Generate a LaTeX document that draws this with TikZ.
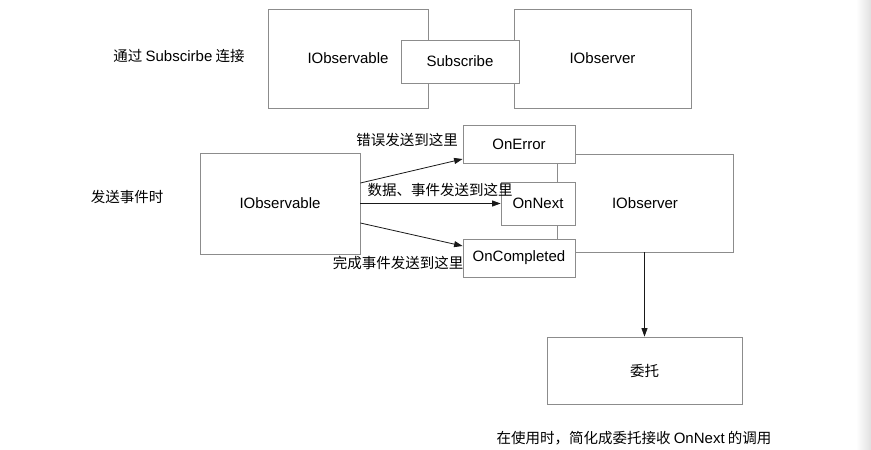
\documentclass[tikz,border=0pt]{standalone}
\usepackage{fontspec}
\setmainfont{Liberation Sans}
\newfontfamily\cjk{Noto Sans CJK SC}
\usetikzlibrary{arrows.meta}
\begin{document}
\begin{tikzpicture}[x=1pt,y=-1pt,
  box/.style={draw=black!45,line width=0.8pt,fill=white,rectangle,inner sep=0pt,
    font=\fontsize{15}{17}\selectfont},
  lbl/.style={inner sep=0pt,font=\fontsize{14.5}{17}\selectfont\cjk},
  arr/.style={draw=black!90,line width=0.8pt,-{Triangle[length=8.5pt,width=6pt]}},
  link/.style={draw=black!45,line width=0.8pt}]
\useasboundingbox (0,0) rectangle (871,450);
\fill[white] (0,0) rectangle (871,450);
\shade[left color=white,right color=black!12] (856,0) rectangle (871,450);

% top row
\node[box,minimum width=160pt,minimum height=99pt] (tobs) at (348,58.5) {IObservable};
\node[box,minimum width=177pt,minimum height=99pt] (tobr) at (602.5,58.5) {IObserver};
\node[box,minimum width=118pt,minimum height=43pt] (sub) at (460,61.5) {Subscribe};
\node[lbl] (t1) at (179,56) {通过 {\rmfamily\fontsize{15}{17}\selectfont Subscirbe} 连接};

% middle row
\node[lbl] (t2) at (127,197) {发送事件时};
\node[box,minimum width=160pt,minimum height=101pt] (obs) at (280,203.5) {IObservable};
\node[box,minimum width=176pt,minimum height=98pt] (obr) at (645,203) {IObserver};
\node[box,minimum width=112pt,minimum height=38pt] (err) at (519,144) {OnError};
\node[box,minimum width=74pt,minimum height=43pt] (nxt) at (538,203.5) {OnNext};
\node[box,minimum width=112pt,minimum height=38pt] (cmp) at (519,258) {OnCompleted};

\draw[arr] ([yshift=20.5pt]obs.east) -- ([yshift=-15pt]err.west);
\draw[arr] (obs.east) -- (nxt.west);
\draw[arr] ([yshift=-19.5pt]obs.east) -- ([yshift=12pt]cmp.west);

\node[lbl] (l1) at (407,140) {错误发送到这里};
\node[lbl] (l2) at (440,190) {数据、事件发送到这里};
\node[lbl] (l3) at (398,263) {完成事件发送到这里};

% delegate
\node[box,minimum width=195pt,minimum height=67pt,font=\fontsize{14.5}{17}\selectfont\cjk] (del) at (644.5,370.5) {委托};
\draw[arr] (obr.south -| del.north) -- (del.north);
\node[lbl] (t3) at (634,438) {在使用时，简化成委托接收 {\rmfamily\fontsize{15}{17}\selectfont OnNext} 的调用};
\end{tikzpicture}
\end{document}
